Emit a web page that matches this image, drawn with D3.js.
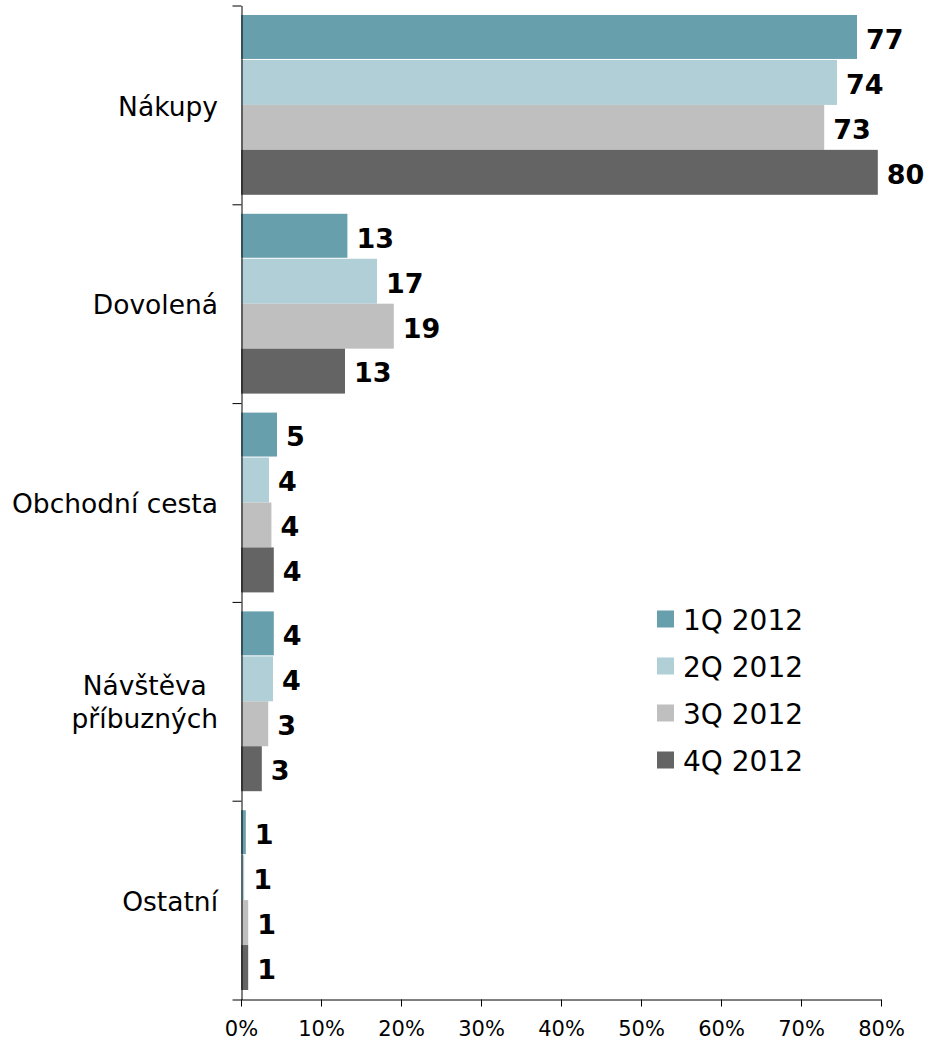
<!DOCTYPE html>
<html>
<head>
<meta charset="utf-8">
<style>
  body { margin: 0; background: #fff; }
  svg { display: block; font-family: "DejaVu Sans", Verdana, sans-serif; }
</style>
</head>
<body>
<svg width="926" height="1040"></svg>
<script src="https://cdn.jsdelivr.net/npm/d3@7"></script>
<script>
// categories (top to bottom) and quarter series
var categories = ["Nákupy", "Dovolená", "Obchodní cesta", "Návštěva\npříbuzných", "Ostatní"];
var series = ["1Q 2012", "2Q 2012", "3Q 2012", "4Q 2012"];
var colors = ["#689fac", "#b0cfd6", "#bfbfbf", "#646464"];

// bar lengths in % (as drawn) and the rounded labels shown next to them
var q1 = [77.0, 13.3, 4.5, 4.1, 0.6];
var q2 = [74.5, 17.0, 3.5, 4.0, 0.4];
var q3 = [72.9, 19.1, 3.8, 3.4, 0.9];
var q4 = [79.6, 13.0, 4.1, 2.6, 0.9];
var q1Labels = [77, 13, 5, 4, 1];
var q2Labels = [74, 17, 4, 4, 1];
var q3Labels = [73, 19, 4, 3, 1];
var q4Labels = [80, 13, 4, 3, 1];
var xTicks = [0, 10, 20, 30, 40, 50, 60, 70, 80];

var values = [q1, q2, q3, q4];
var labels = [q1Labels, q2Labels, q3Labels, q4Labels];

var svg = d3.select("svg");
var plotLeft = 241, plotRight = 881, plotTop = 5, plotBottom = 999;

var x = d3.scaleLinear().domain([0, 80]).range([plotLeft, plotRight]);
var y = d3.scaleBand().domain(categories).range([plotTop, plotBottom]);
var ySub = d3.scaleBand().domain(series).range([10, y.bandwidth() - 9]);

var rows = [];
categories.forEach(function(c, ci) {
  series.forEach(function(s, si) {
    rows.push({cat: c, ser: s, si: si, v: values[si][ci], label: labels[si][ci]});
  });
});

// bars
svg.append("g").selectAll("rect").data(rows).enter().append("rect")
    .attr("x", x(0))
    .attr("y", function(d) { return y(d.cat) + ySub(d.ser); })
    .attr("width", function(d) { return x(d.v) - x(0); })
    .attr("height", function(d) { return d.si == 0 ? ySub.bandwidth() - 1 : ySub.bandwidth(); })
    .attr("fill", function(d) { return colors[d.si]; });

// value labels
svg.append("g").selectAll("text").data(rows).enter().append("text")
    .attr("x", function(d) { return x(d.v) + 9; })
    .attr("y", function(d) { return y(d.cat) + ySub(d.ser) + ySub.bandwidth() / 2; })
    .attr("dy", "0.42em")
    .attr("font-size", 27)
    .attr("font-weight", "bold")
    .attr("fill", "#000")
    .text(function(d) { return d.label; });

// x axis
var xAxis = svg.append("g")
    .attr("transform", "translate(0," + (plotBottom + 0.5) + ")")
    .call(d3.axisBottom(x).tickValues(xTicks).tickSize(7).tickSizeOuter(0).tickPadding(15)
      .tickFormat(function(d) { return d + "%"; }));
xAxis.selectAll("text").attr("font-size", 21).attr("fill", "#000").attr("font-family", "DejaVu Sans, Verdana, sans-serif");
xAxis.selectAll("line,path").attr("stroke", "#000");

// y axis: ticks on category boundaries
var yEdge = d3.scaleLinear().domain([0, categories.length]).range([plotTop, plotBottom]);
var yAxis = svg.append("g")
    .attr("transform", "translate(" + (plotLeft + 0.5) + ",0.5)")
    .call(d3.axisLeft(yEdge).tickValues(d3.range(categories.length + 1)).tickSize(9).tickSizeOuter(0)
      .tickFormat(""));
yAxis.selectAll("line,path").attr("stroke", "#000");

// category labels
var catG = svg.append("g");
categories.forEach(function(c) {
  var lines = c.split("\n");
  var cy = y(c) + y.bandwidth() / 2;
  var lh = 33;
  var t = catG.append("text")
      .attr("font-size", 26.5)
      .attr("fill", "#000");
  lines.forEach(function(l, i) {
    t.append("tspan")
        .attr("y", cy + (i - (lines.length - 1) / 2) * lh)
        .attr("dy", "0.42em")
        .text(l);
  });
  var w = d3.max(t.selectAll("tspan").nodes(), function(n) { return n.getComputedTextLength(); });
  t.attr("text-anchor", "middle").selectAll("tspan").attr("x", 218 - w / 2);
});

// legend
var leg = svg.append("g").attr("transform", "translate(657,619)");
series.forEach(function(s, i) {
  leg.append("rect")
      .attr("x", 0).attr("y", i * 47 - 8.5)
      .attr("width", 17).attr("height", 17)
      .attr("fill", colors[i]);
  leg.append("text")
      .attr("x", 26).attr("y", i * 47)
      .attr("dy", "0.4em")
      .attr("font-size", 28)
      .attr("fill", "#000")
      .text(s);
});
</script>
</body>
</html>
